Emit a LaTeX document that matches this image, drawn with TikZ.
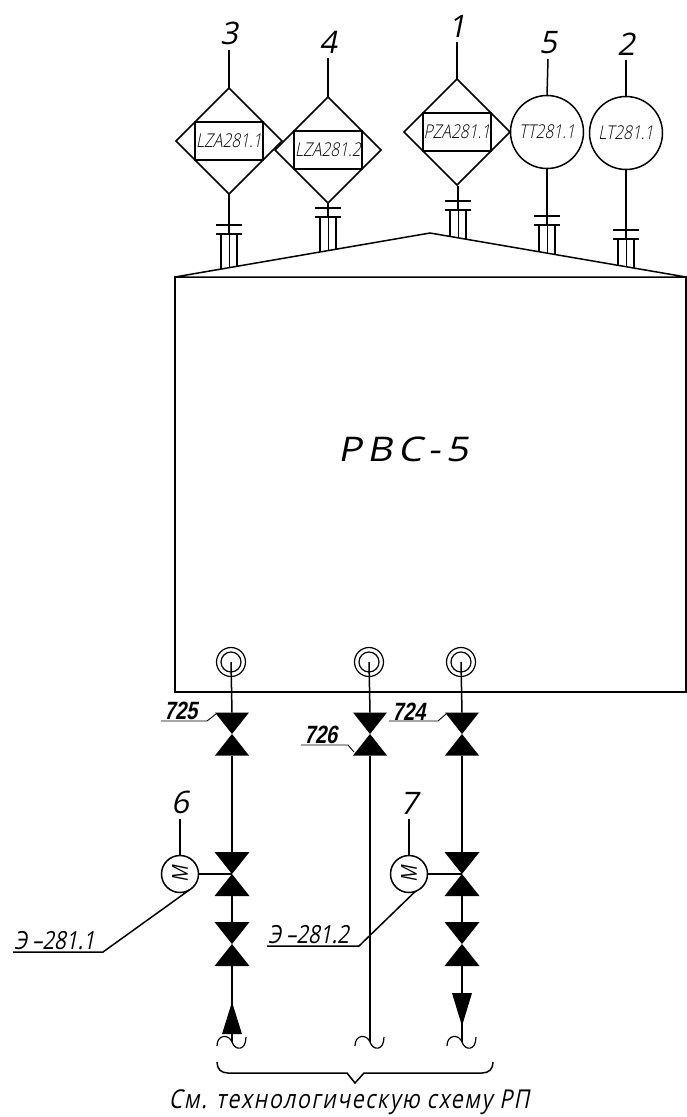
\documentclass[tikz,border=0pt]{standalone}
\usepackage{fontspec}
\usepackage{tikz}
\usetikzlibrary{arrows,shapes.geometric,positioning}
\setmainfont{Open Sans Light}[FakeSlant=0.2,FakeStretch=0.82]
\newfontfamily\gostfont{Open Sans}[FakeSlant=0.2]
\newfontfamily\gostnarrow{Open Sans}[FakeSlant=0.2,FakeStretch=0.82]
\newfontfamily\gostwide{Open Sans}[FakeSlant=0.2,FakeStretch=1.15,LetterSpace=16]
\newfontfamily\gostnote{Open Sans}[FakeSlant=0.2,FakeStretch=0.82,LetterSpace=6]
\newfontfamily\tagfont{Liberation Sans}[FakeSlant=0.2,FakeStretch=0.8,BoldFont={Liberation Sans Bold}]

\begin{document}
\begin{tikzpicture}[x=1pt,y=-1pt,line width=1.5pt,node distance=5pt,
    every node/.style={inner sep=0pt,outer sep=0pt},
    instrd/.style={diamond,draw,fill=white,minimum width=106pt,minimum height=106pt},
    instrc/.style={circle,draw,fill=white,minimum size=73pt},
    tagbox/.style={draw,minimum width=68pt,minimum height=38pt,font=\fontsize{19}{19}\selectfont},
    circtext/.style={font=\fontsize{19}{19}\selectfont},
    numlabel/.style={font=\gostfont\fontsize{31}{31}\selectfont},
    motor/.style={circle,draw,fill=white,minimum size=37pt},
    valve/.style={minimum width=34pt,minimum height=43pt,path picture={
        \fill (path picture bounding box.north west) -- (path picture bounding box.north east)
          -- (path picture bounding box.south west) -- (path picture bounding box.south east) -- cycle;}},
    flowup/.style={minimum width=20pt,minimum height=32pt,path picture={
        \fill (path picture bounding box.north) -- (path picture bounding box.south east)
          -- (path picture bounding box.south west) -- cycle;}},
    flowdown/.style={minimum width=20pt,minimum height=33pt,path picture={
        \fill (path picture bounding box.south) -- (path picture bounding box.north east)
          -- (path picture bounding box.north west) -- cycle;}},
    tagno/.style={font=\tagfont\bfseries\fontsize{25}{25}\selectfont},
    elabel/.style={font=\gostnarrow\fontsize{25}{25}\selectfont},
    thin line/.style={line width=0.9pt}]
    \useasboundingbox (0,0) rectangle (687,1117);

    % nozzles on the roof
    \foreach \x/\y in {229/225,328/208,458/201,547/216,626/230}{
        \draw (\x-13,\y) -- (\x+13,\y);
        \draw (\x-13,\y+9) -- (\x+13,\y+9);
        \draw (\x-8,\y+9) -- (\x-8,277);
        \draw (\x+8,\y+9) -- (\x+8,277);
        \draw[thin line] (\x,\y+9) -- (\x,277);
    }

    % tank
    \node[draw,fill=white,minimum width=511pt,minimum height=415pt] (tank) at (430.5,484.5) {};
    \coordinate (roofl) at (tank.north west);
    \coordinate (roofr) at (tank.north east);
    \coordinate (apex) at (430,233);
    \filldraw[fill=white] (roofl) -- (apex) -- (roofr) -- cycle;
    \node[font=\gostwide\fontsize{34}{34}\selectfont] (name) at (403,449) {РВС-5};

    % instruments
    \coordinate (f3) at (229,234); \coordinate (f4) at (328,217); \coordinate (f1) at (458,210);
    \coordinate (f5) at (547,225); \coordinate (f2) at (626,239);
    \coordinate (l3) at (229,50);  \coordinate (l4) at (328,58);  \coordinate (l1) at (457,42);
    \coordinate (l5) at (548,59);  \coordinate (l2) at (626,60);

    \path (f3) edge (229,194) (f4) edge (328,203) (f1) edge (458,186)
          (f5) edge (547,168) (f2) edge (626,169);

    \node[instrd] (d3) at (229,141) {};
    \node[instrd] (d4) at (328,150) {};
    \node[instrd] (d1) at (457,132) {};
    \node[instrc] (c5) at (547,132) {};
    \node[instrc] (c2) at (626,133) {};
    \node[tagbox] (t3) at (d3) {LZA281.1};
    \node[tagbox] (t4) at (d4) {LZA281.2};
    \node[tagbox] (t1) at (d1) {PZA281.1};
    \node[circtext] (t5) at (c5) {TT281.1};
    \node[circtext] (t2) at (c2) {LT281.1};

    \path (d3.north) edge (l3)
          (d4.north) edge (l4)
          (d1.north) edge (l1)
          (c5.north) edge (l5)
          (c2.north) edge (l2);
    \node[numlabel,above=of l3] (n3) {3};
    \node[numlabel,above=of l4] (n4) {4};
    \node[numlabel,above=of l1] (n1) {1};
    \node[numlabel,above=of l5] (n5) {5};
    \node[numlabel,above=of l2] (n2) {2};

    % outlets
    \foreach \nm/\x in {a/231,b/369,c/461}{
        \node[circle,draw,line width=1.2pt,minimum size=29pt] (p\nm) at (\x,662) {};
        \node[circle,draw,line width=1.2pt,minimum size=20pt] (q\nm) at (\x,662) {};
    }

    % valves
    \node[valve] (v1) at (232,734) {};
    \node[valve] (v2) at (370,734) {};
    \node[valve] (v3) at (462,734) {};
    \node[valve,minimum width=35pt,minimum height=44pt] (v4) at (232,874) {};
    \node[valve,minimum width=35pt,minimum height=44pt] (v5) at (232,944) {};
    \node[valve,minimum width=35pt,minimum height=44pt] (v6) at (462,874) {};
    \node[valve,minimum width=35pt,minimum height=44pt] (v7) at (462,944) {};
    \node[flowup] (a1) at (232,1018) {};
    \node[flowdown] (a2) at (462,1009.5) {};

    % ends of the lines
    \foreach \nm/\x in {a/232,b/370,c/462}{
        \coordinate (e\nm) at (\x,1042);
        \draw[line width=1.2pt] (\x-15,1046) .. controls (\x-15,1034) and (\x-3,1034) .. (e\nm)
            .. controls (\x+3,1051) and (\x+14,1051) .. (\x+14,1037);
    }

    \path (pa.center) edge (v1.north)
          (pb.center) edge (v2.north)
          (pc.center) edge (v3.north)
          (v1.south) edge (v4.north)
          (v4.south) edge (v5.north)
          (v5.south) edge (ea)
          (v2.south) edge (eb)
          (v3.south) edge (v6.north)
          (v6.south) edge (v7.north)
          (v7.south) edge (ec);

    % valve numbers
    \coordinate (w1) at (161,721); \coordinate (w2) at (301,745); \coordinate (w3) at (389,721);
    \draw[thin line] (w1) -- (207,721) -- (216,714);
    \draw[thin line] (w2) -- (348,745) -- (354,752);
    \draw[thin line] (w3) -- (438,721) -- (446,714);
    \node[tagno,above right=1pt and 3pt of w1] (s1) {725};
    \node[tagno,above right=1pt and 3pt of w2] (s2) {726};
    \node[tagno,above right=1pt and 3pt of w3] (s3) {724};

    % motors
    \node[motor] (m1) at (180,874) {};
    \node[motor] (m2) at (409,874) {};
    \node[rotate=90,font=\gostnarrow\fontsize{22}{22}\selectfont] (mt1) at (m1) {М};
    \node[rotate=90,font=\gostnarrow\fontsize{22}{22}\selectfont] (mt2) at (m2) {М};
    \path (m1.east) edge (v4.center)
          (m2.east) edge (v6.center);
    \coordinate (k1) at (180,819);
    \coordinate (k2) at (409,819);
    \path (m1.north) edge (k1)
          (m2.north) edge (k2);
    \node[numlabel,above=of k1] (n6) {6};
    \node[numlabel,above=of k2] (n7) {7};

    % drive labels
    \coordinate (u1) at (13,952); \coordinate (u1b) at (103,952);
    \coordinate (u2) at (267,946); \coordinate (u2b) at (359,946);
    \draw (u1) -- (u1b) -- (m1.-60);
    \draw (u2) -- (u2b) -- (m2.-70);
    \node[elabel,above right=2pt and 1pt of u1] (z1) {Э –281.1};
    \node[elabel,above right=2pt and 1pt of u2] (z2) {Э –281.2};

    % brace
    \coordinate (b1) at (217,1062);
    \coordinate (b2) at (493,1062);
    \coordinate (btip) at (355,1083);
    \draw (b1) .. controls (217,1069) and (221,1073) .. (228,1073) -- (347,1073) -- (btip)
        -- (364,1073) -- (482,1073) .. controls (489,1073) and (493,1069) .. (b2);
    \node[font=\gostnote\fontsize{26}{26}\selectfont,below=7pt of btip,xshift=-6pt] (note) {См. технологическую схему РП};
\end{tikzpicture}
\end{document}
